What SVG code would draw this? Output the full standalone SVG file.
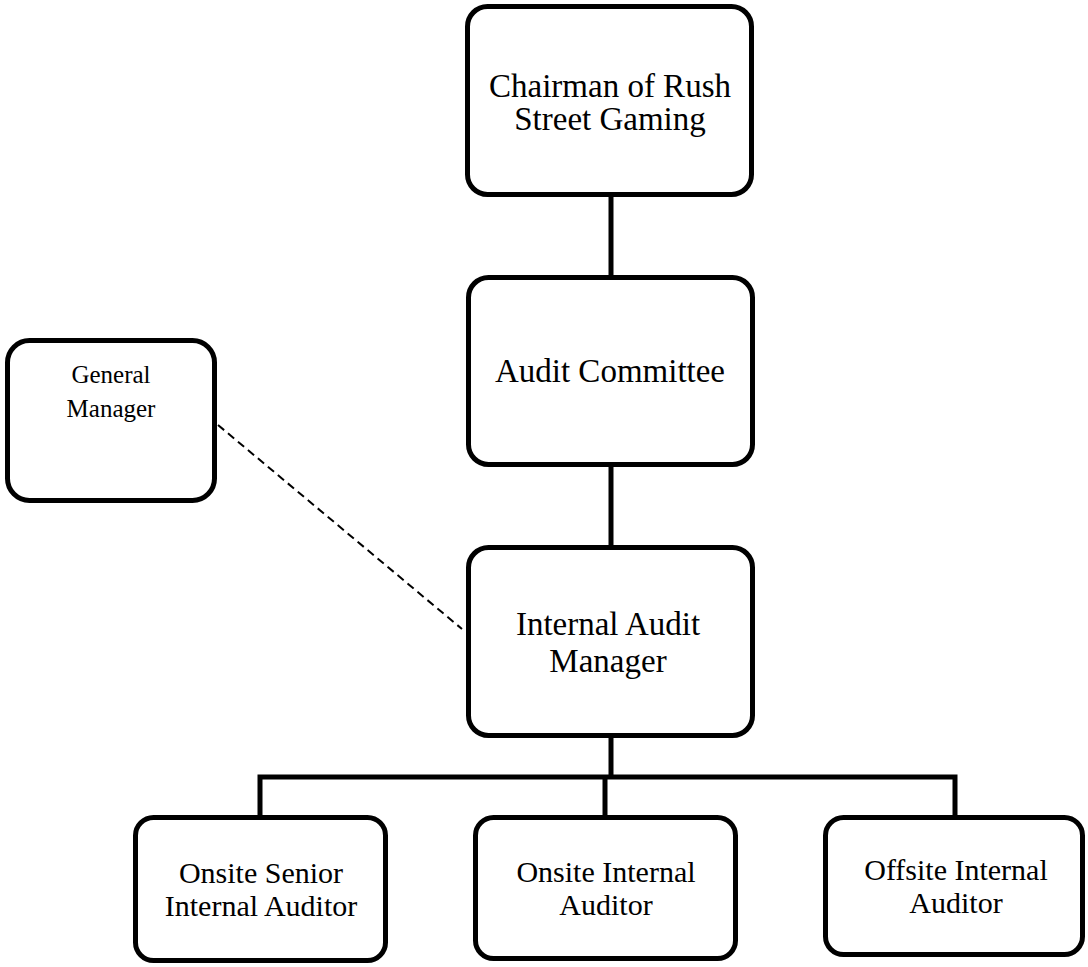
<svg xmlns="http://www.w3.org/2000/svg" width="1088" height="967" viewBox="0 0 1088 967">
<style>
.box{fill:#fff;stroke:#000;stroke-width:5}
.ln{fill:none;stroke:#000;stroke-width:5}
.dash{fill:none;stroke:#000;stroke-width:2;stroke-dasharray:8 5}
text{font-family:"Liberation Serif","Times New Roman",serif;fill:#000;text-anchor:middle}
</style>
<rect width="1088" height="967" fill="#fff"/>
<g id="connectors">
<line class="ln" x1="611" y1="195" x2="611" y2="277"/>
<line class="ln" x1="611" y1="465" x2="611" y2="547"/>
<line class="ln" x1="611" y1="736" x2="611" y2="777"/>
<polyline class="ln" points="260,817 260,777 955,777 955,817"/>
<line class="ln" x1="605" y1="777" x2="605" y2="817"/>
<line class="dash" x1="218" y1="425" x2="462" y2="629"/>
</g>
<g id="chairman">
<rect class="box" x="467.5" y="6.5" width="284" height="188" rx="20"/>
<text x="610" y="97" font-size="33">Chairman of Rush</text>
<text x="610" y="130" font-size="33">Street Gaming</text>
</g>
<g id="audit-committee">
<rect class="box" x="468.5" y="277.5" width="284" height="187" rx="20"/>
<text x="610" y="382" font-size="33">Audit Committee</text>
</g>
<g id="general-manager">
<rect class="box" x="7.5" y="340.5" width="207" height="160" rx="22"/>
<text x="111" y="383" font-size="25">General</text>
<text x="111" y="417" font-size="25">Manager</text>
</g>
<g id="internal-audit-manager">
<rect class="box" x="468.5" y="547.5" width="284" height="188" rx="20"/>
<text x="608" y="635" font-size="33">Internal Audit</text>
<text x="608" y="672" font-size="33">Manager</text>
</g>
<g id="onsite-senior">
<rect class="box" x="135.5" y="817.5" width="250" height="143" rx="18"/>
<text x="261" y="883" font-size="30">Onsite Senior</text>
<text x="261" y="916" font-size="30">Internal Auditor</text>
</g>
<g id="onsite-internal">
<rect class="box" x="475.5" y="817.5" width="260" height="141" rx="18"/>
<text x="606" y="882" font-size="30">Onsite Internal</text>
<text x="606" y="915" font-size="30">Auditor</text>
</g>
<g id="offsite-internal">
<rect class="box" x="825.5" y="817.5" width="257" height="137" rx="18"/>
<text x="956" y="880" font-size="30">Offsite Internal</text>
<text x="956" y="913" font-size="30">Auditor</text>
</g>
</svg>
